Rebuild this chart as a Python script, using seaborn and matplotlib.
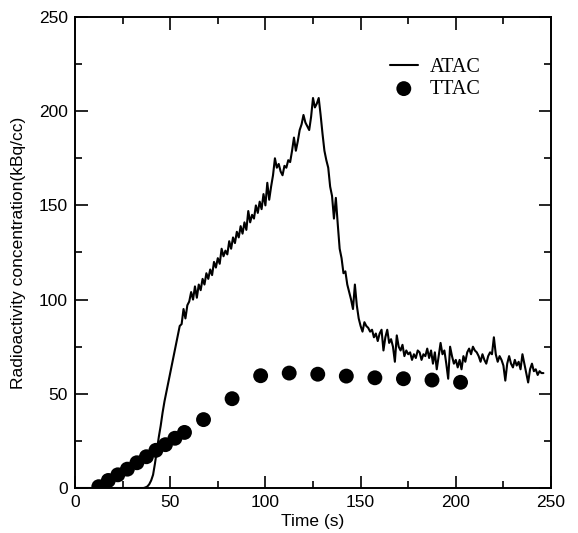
import numpy as np
import pandas as pd
import matplotlib
matplotlib.use("Agg")
import matplotlib.pyplot as plt
import seaborn as sns
from matplotlib.ticker import MultipleLocator

# ATAC: arterial curve, one sample per second
atac_time = list(range(0, 247))
atac_value = [
    0, 0, 0, 0, 0, 0, 0, 0, 0, 0,
    0, 0, 0, 0, 0, 0, 0, 0, 0, 0,
    0, 0, 0, 0, 0, 0, 0, 0, 0, 0,
    0, 0, 0, 0, 0, 0, 0, 0.3, 0.8, 2,
    4, 7, 13, 20, 27, 33, 40, 46, 51, 56,
    61, 66, 71, 76, 81, 86, 87, 95, 90, 97,
    99, 104, 100, 107, 101, 108, 105, 111, 108, 114,
    111, 116, 113, 120, 117, 122, 119, 127, 123, 126,
    124, 131, 127, 133, 130, 136, 133, 139, 135, 141,
    137, 147, 141, 145, 143, 150, 146, 152, 148, 156,
    150, 162, 153, 160, 166, 175, 170, 172, 168, 166,
    171, 170, 174, 173, 179, 186, 179, 184, 190, 193,
    198, 194, 192, 190, 197, 207, 202, 204, 207, 198,
    188, 179, 174, 170, 160, 155, 143, 154, 140, 127,
    122, 114, 115, 108, 104, 100, 95, 108, 97, 90,
    86, 83, 88, 86, 85, 83, 84, 80, 82, 78,
    82, 84, 73, 80, 84, 77, 79, 75, 67, 81,
    75, 73, 76, 70, 73, 71, 72, 68, 71, 69,
    73, 72, 68, 71, 70, 74, 69, 73, 66, 72,
    63, 70, 77, 71, 73, 66, 58, 75, 70, 66,
    68, 64, 68, 63, 70, 67, 72, 74, 71, 75,
    73, 72, 70, 67, 71, 68, 66, 70, 72, 71,
    80, 71, 67, 70, 68, 65, 57, 66, 70, 66,
    64, 68, 65, 67, 63, 71, 66, 61, 56, 63,
    66, 62, 63, 60, 62, 61, 61,
]

# TTAC: tissue curve, frame mid-times
ttac_time = [12.5, 17.5, 22.5, 27.5, 32.5, 37.5, 42.5, 47.5, 52.5, 57.5,
             67.5, 82.5, 97.5, 112.5, 127.5, 142.5, 157.5, 172.5, 187.5, 202.5]
ttac_value = [0.7, 4.0, 7.0, 10.0, 13.4, 16.6, 20.0, 23.0, 26.4, 29.5,
              36.3, 47.4, 59.6, 61.0, 60.4, 59.4, 58.5, 58.0, 57.3, 56.1]

atac = pd.DataFrame({"time": atac_time, "value": atac_value})
ttac = pd.DataFrame({"time": ttac_time, "value": ttac_value})

sns.set_style("ticks")
plt.rcParams["font.family"] = ["Liberation Sans", "DejaVu Sans"]
plt.rcParams["text.color"] = "black"
plt.rcParams["axes.labelcolor"] = "black"
plt.rcParams["xtick.color"] = "black"
plt.rcParams["ytick.color"] = "black"
plt.rcParams["axes.edgecolor"] = "black"

fig = plt.figure(figsize=(5.78, 5.33), dpi=100)
ax = fig.add_axes([75 / 578, 45 / 533, 476 / 578, 471 / 533])

sns.lineplot(data=atac, x="time", y="value", ax=ax, color="black",
             linewidth=1.5, estimator=None, label="ATAC")
sns.scatterplot(data=ttac, x="time", y="value", ax=ax, color="black",
                s=115, edgecolor="none", label="TTAC", zorder=3)

ax.set_xlim(0, 250)
ax.set_ylim(0, 250)
ax.xaxis.set_major_locator(MultipleLocator(50))
ax.xaxis.set_minor_locator(MultipleLocator(25))
ax.yaxis.set_major_locator(MultipleLocator(50))
ax.yaxis.set_minor_locator(MultipleLocator(25))
ax.tick_params(which="both", direction="in", top=True, right=True,
               labelsize=12.5, width=1.2, pad=5)
ax.tick_params(which="major", length=9)
ax.tick_params(which="minor", length=5)
for sp in ax.spines.values():
    sp.set_linewidth(1.4)

ax.set_xlabel("Time (s)", fontsize=12.5, labelpad=3)
ax.set_ylabel("Radioactivity concentration(kBq/cc)", fontsize=12.5, labelpad=9)

ax.legend(loc="upper left", bbox_to_anchor=(0.64, 0.935), frameon=False,
          prop={"family": "Liberation Serif", "size": 14.5},
          handlelength=1.4, handletextpad=0.6, labelspacing=0.15,
          borderpad=0, markerscale=1.0)

fig.savefig("out.png", dpi=100)
